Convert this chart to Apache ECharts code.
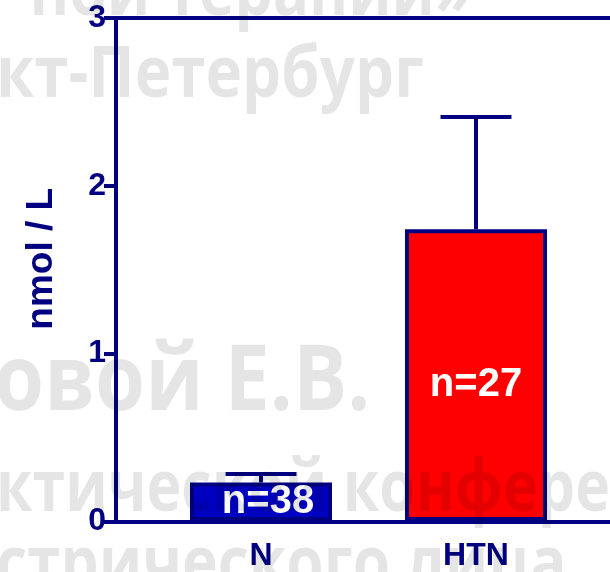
<!DOCTYPE html>
<html>
<head>
<meta charset="utf-8">
<script src="https://cdn.jsdelivr.net/npm/echarts@6/dist/echarts.min.js"></script>
<style>
  html, body { margin: 0; padding: 0; background: #ffffff; }
  #chart { width: 610px; height: 572px; }
</style>
</head>
<body>
<div id="chart"></div>
<script>
// Groups and their values (mean and upper error, nmol/L)
const categories = ['N', 'HTN'];
const means = [0.23, 1.74];
const errors = [0.05, 0.67];
const sampleSizes = [38, 27];
const barColors = ['#0000C0', '#FF0000'];

// Value axis
const yMin = 0;
const yMax = 3;
const yStep = 1;

// Faint slide lettering sitting behind/over the plot
const backdropLines = [
  'ной терапии»',
  'кт-Петербург',
  'овой Е.В.',
  'ктической конференции',
  'стрического лица'
];

const NAVY = '#000080';
const chart = echarts.init(document.getElementById('chart'), null, { renderer: 'canvas' });

// Backdrop lettering layout: [x, y, fontSize, scaleX, align]
const backdropLayout = [
  [472, 30, 70, 0.86, 'right'],
  [-4, 112, 72, 0.86, 'left'],
  [-6, 430, 92, 0.88, 'left'],
  [-4, 526, 72, 0.82, 'left'],
  [-4, 602, 72, 0.84, 'left']
];

const backdrop = backdropLines.map((t, i) => {
  const [x, y, size, sx, align] = backdropLayout[i];
  return {
    type: 'text',
    x: x,
    y: y,
    scaleX: sx,
    z: 100,
    silent: true,
    style: {
      text: t,
      x: 0,
      y: 0,
      textAlign: align,
      textVerticalAlign: 'bottom',
      font: 'bold ' + size + 'px "Open Sans", "DejaVu Sans", sans-serif',
      fill: 'rgba(0,0,0,0.1)',
      shadowBlur: 4,
      shadowColor: 'rgba(0,0,0,0.06)',
      shadowOffsetY: 3
    }
  };
});

const barData = means.map((v, i) => ({
  value: v,
  itemStyle: { color: barColors[i] },
  label: { offset: i === 0 ? [7, 0] : [0, 10] }
}));

const errData = means.map((v, i) => [i, v, v + errors[i]]);

const option = {
  backgroundColor: '#ffffff',
  animation: false,
  graphic: backdrop,
  grid: [
    { left: 116, right: -10, top: 18, bottom: 50.5 },
    { left: 153.5, width: 430, top: 18, bottom: 50.5 }
  ],
  xAxis: [
    {
      gridIndex: 0, type: 'value', position: 'bottom', min: 0, max: 1,
      axisLine: { show: true, lineStyle: { color: NAVY, width: 4 } },
      axisTick: { show: false }, axisLabel: { show: false }, splitLine: { show: false }
    },
    {
      gridIndex: 0, type: 'value', position: 'top', min: 0, max: 1,
      axisLine: { show: true, lineStyle: { color: NAVY, width: 4 } },
      axisTick: { show: false }, axisLabel: { show: false }, splitLine: { show: false }
    },
    {
      gridIndex: 1, type: 'category', data: categories, position: 'bottom',
      axisLine: { show: false }, axisTick: { show: false },
      axisLabel: {
        color: NAVY, fontFamily: 'Arial, "Liberation Sans", sans-serif',
        fontWeight: 'bold', fontSize: 32, margin: 19
      }
    }
  ],
  yAxis: [
    {
      gridIndex: 0, type: 'value', min: yMin, max: yMax, interval: yStep,
      name: 'nmol / L', nameLocation: 'middle', nameGap: 56, nameRotate: 90,
      nameTextStyle: {
        color: NAVY, fontFamily: 'Arial, "Liberation Sans", sans-serif',
        fontWeight: 'bold', fontSize: 37, padding: [0, 0, 0, 22]
      },
      axisLine: { show: true, lineStyle: { color: NAVY, width: 4 } },
      axisTick: { show: true, length: 12, lineStyle: { color: NAVY, width: 4 } },
      axisLabel: {
        color: NAVY, fontFamily: 'Arial, "Liberation Sans", sans-serif',
        fontWeight: 'bold', fontSize: 32, margin: 10
      },
      splitLine: { show: false }
    },
    {
      gridIndex: 1, type: 'value', min: yMin, max: yMax, interval: yStep, show: false
    }
  ],
  series: [
    {
      type: 'custom',
      xAxisIndex: 2, yAxisIndex: 1,
      z: 1,
      data: errData,
      renderItem: function (params, api) {
        const x = api.value(0);
        const base = api.coord([x, api.value(1)]);
        const top = api.coord([x, api.value(2)]);
        const half = api.size([1, 0])[0] * 0.165;
        const st = { stroke: NAVY, lineWidth: 4 };
        return {
          type: 'group',
          children: [
            { type: 'line', shape: { x1: base[0], y1: base[1], x2: top[0], y2: top[1] }, style: st },
            { type: 'line', shape: { x1: top[0] - half, y1: top[1], x2: top[0] + half, y2: top[1] }, style: st }
          ]
        };
      }
    },
    {
      type: 'bar',
      xAxisIndex: 2, yAxisIndex: 1,
      z: 2,
      barWidth: 142,
      data: barData,
      itemStyle: { borderColor: NAVY, borderWidth: 4 },
      label: {
        show: true,
        position: 'inside',
        color: '#ffffff',
        fontFamily: 'Arial, "Liberation Sans", sans-serif',
        fontWeight: 'bold',
        fontSize: 40,
        formatter: function (p) { return 'n=' + sampleSizes[p.dataIndex]; }
      }
    }
  ]
};

chart.setOption(option);
</script>
</body>
</html>
